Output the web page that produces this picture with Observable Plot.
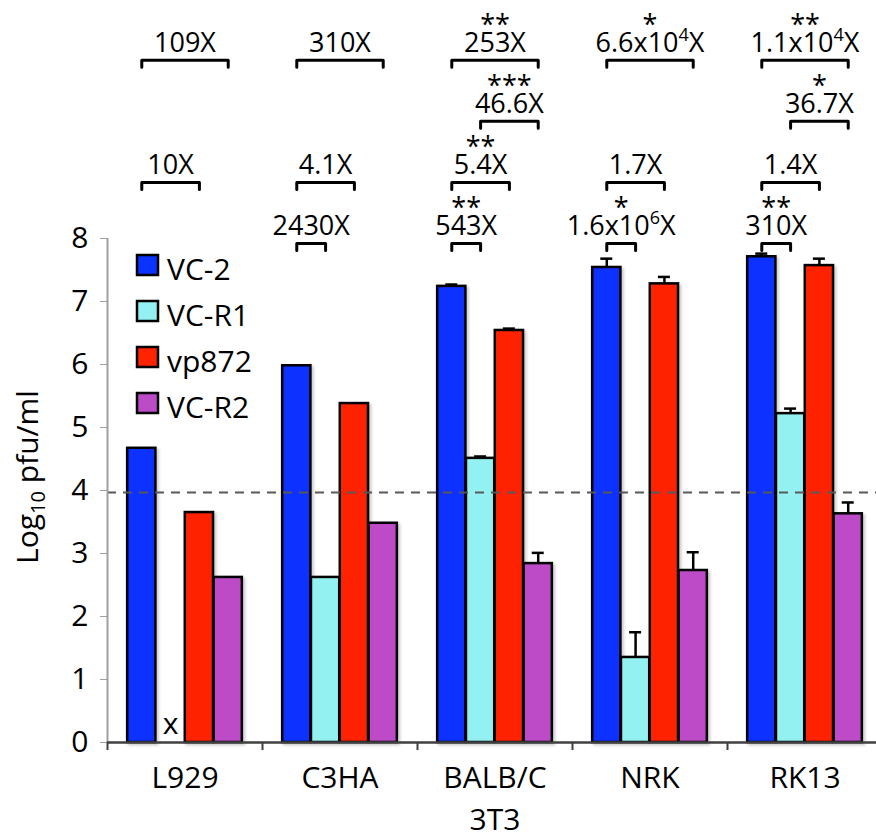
<!DOCTYPE html>
<html><head><meta charset="utf-8">
<script src="https://cdn.jsdelivr.net/npm/d3@7"></script>
<script src="https://cdn.jsdelivr.net/npm/@observablehq/plot@0.6"></script>
<style>
html,body{margin:0;padding:0;background:#fff;}
#chart{position:relative;width:876px;height:838px;}
svg{font-family:"Open Sans",sans-serif;}
</style></head><body><div id="chart"></div>
<script>
// ---- data ----
const categories = ["L929", "C3HA", "BALB/C\n3T3", "NRK", "RK13"];
const series = ["VC-2", "VC-R1", "vp872", "VC-R2"];
const colors = ["#0a33ff", "#93f2f1", "#ff2300", "#bd4bc8"];
const vc2   = [4.67, 5.98, 7.24, 7.54, 7.71];
const vcR1  = [null, 2.62, 4.51, 1.35, 5.22];
const vp872 = [3.65, 5.38, 6.54, 7.28, 7.57];
const vcR2  = [2.62, 3.48, 2.84, 2.73, 3.63];
const vc2Err   = [0, 0, 0.03, 0.14, 0.05];
const vcR1Err  = [0, 0, 0.03, 0.40, 0.08];
const vp872Err = [0, 0, 0.03, 0.11, 0.11];
const vcR2Err  = [0, 0, 0.17, 0.29, 0.18];
const yTicks = [0, 1, 2, 3, 4, 5, 6, 7, 8];
const detectionLimit = 3.97;
// pairwise comparisons (fold difference + significance)
const cmpCategory = [0, 1, 2, 3, 4, 2, 4, 0, 1, 2, 3, 4, 1, 2, 3, 4];
const cmpFrom = ["VC-2","VC-2","VC-2","VC-2","VC-2","VC-R1","VC-R1","VC-2","VC-2","VC-2","VC-2","VC-2","VC-2","VC-2","VC-2","VC-2"];
const cmpTo   = ["VC-R2","VC-R2","VC-R2","VC-R2","VC-R2","VC-R2","VC-R2","vp872","vp872","vp872","vp872","vp872","VC-R1","VC-R1","VC-R1","VC-R1"];
const cmpTier = [0, 0, 0, 0, 0, 1, 1, 2, 2, 2, 2, 2, 3, 3, 3, 3];
const cmpFold = ["109X","310X","253X","6.6x10^4X","1.1x10^4X","46.6X","36.7X","10X","4.1X","5.4X","1.7X","1.4X","2430X","543X","1.6x10^6X","310X"];
const cmpStars = ["","","**","*","**","***","*","","","**","","","","**","*","**"];

// ---- layout ----
const W = 876, H = 838, mTop = 238, mBottom = 96, xLeft = 107, xRight = 882;
const pxPerUnit = (H - mTop - mBottom) / 8;
const values = [vc2, vcR1, vp872, vcR2];
const errs = [vc2Err, vcR1Err, vp872Err, vcR2Err];
const inner = d3.scaleBand().domain(series).range([-0.5, 0.5]).paddingInner(0.02).paddingOuter(0.7);
const bw = inner.bandwidth();
const center = (i, s) => i + inner(s) + bw / 2;

const bars = [];
categories.forEach((c, i) => series.forEach((s, j) => {
  const x1 = i + inner(s);
  bars.push({cat: c, series: s, x1, x2: x1 + bw, xc: x1 + bw / 2, v: values[j][i], e: errs[j][i]});
}));
const present = bars.filter(d => d.v != null);
const missing = bars.filter(d => d.v == null);
const withErr = present.filter(d => d.e > 0);
const capHalf = 6 / ((xRight - xLeft) / 5);

const tierLevel = t => 7.92 + (3 - t) * 0.97;
const tickLen = 7 / pxPerUnit;
const cmps = cmpCategory.map((c, k) => {
  const xa = center(c, cmpFrom[k]), xb = center(c, cmpTo[k]);
  return {id: k, xa, xb, xm: (xa + xb) / 2, level: tierLevel(cmpTier[k]), fold: cmpFold[k], stars: cmpStars[k]};
});
const bracketPts = cmps.flatMap(d => [
  {id: d.id, x: d.xa, y: d.level - tickLen},
  {id: d.id, x: d.xa, y: d.level},
  {id: d.id, x: d.xb, y: d.level},
  {id: d.id, x: d.xb, y: d.level - tickLen}
]);
const boundaries = [-0.5, 0.5, 1.5, 2.5, 3.5];

const plot = Plot.plot({
  width: W, height: H,
  marginTop: mTop, marginBottom: mBottom, marginLeft: xLeft, marginRight: 0,
  style: {fontFamily: "'Open Sans', sans-serif", background: "#fff"},
  x: {domain: [-0.5, 4.5], range: [xLeft, xRight], axis: null},
  y: {domain: [0, 8]},
  color: {domain: series, range: colors},
  marks: [
    Plot.rect(present, {x1: "x1", x2: "x2", y1: 0, y2: "v", fill: "series", stroke: "black", strokeWidth: 2.5}),
    Plot.ruleX(withErr, {x: "xc", y1: "v", y2: d => d.v + d.e, stroke: "black", strokeWidth: 2.5}),
    Plot.ruleY(withErr, {y: d => d.v + d.e, x1: d => d.xc - capHalf, x2: d => d.xc + capHalf, stroke: "black", strokeWidth: 2.5}),
    Plot.ruleY([detectionLimit], {x1: -0.5, x2: 4.5, stroke: "#595959", strokeWidth: 2, strokeDasharray: "9,7"}),
    Plot.ruleX([-0.5], {y1: 0, y2: 8, stroke: "#a0a0a0", strokeWidth: 2}),
    Plot.axisY({ticks: yTicks, tickSize: 7, tickPadding: 12, fontSize: 30, label: null, stroke: "#a0a0a0", fill: "#000"}),
    Plot.ruleX(boundaries, {x: d => d, y1: 0, y2: -8 / pxPerUnit, stroke: "#404040", strokeWidth: 2}),
    Plot.ruleY([0], {x1: -0.5, x2: 4.5, stroke: "#404040", strokeWidth: 2.5}),
    Plot.text(categories, {x: (d, i) => i, frameAnchor: "bottom", text: d => d, dy: 16, lineAnchor: "top", lineHeight: 1.4, fontSize: 30, fill: "#000"}),
    Plot.text(missing, {x: "xc", y: 0, text: () => "x", dy: -18, fontSize: 30, fill: "#000"}),
    Plot.line(bracketPts, {x: "x", y: "y", z: "id", stroke: "black", strokeWidth: 3}),
    Plot.text(cmps, {x: "xm", y: "level", text: "fold", dy: -17, fontSize: 27, fill: "#000"}),
    Plot.text(cmps.filter(d => d.stars), {x: "xm", y: "level", text: "stars", dy: -35, fontSize: 27, fill: "#000"})
  ]
});
document.getElementById("chart").appendChild(plot);

const svg = d3.select(plot);
// superscripts in fold labels
svg.selectAll("text").each(function () {
  const t = this.textContent;
  if (!t.includes("^")) return;
  const m = t.match(/^(.*)\^(\d)(.*)$/);
  if (!m) return;
  const el = d3.select(this);
  el.text(null);
  el.append("tspan").text(m[1]);
  el.append("tspan").attr("dy", -11).attr("font-size", 18).text(m[2]);
  el.append("tspan").attr("dy", 11).text(m[3]);
});
// bar drop shadow
const defs = svg.append("defs");
const f = defs.append("filter").attr("id", "shadow").attr("x", "-20%").attr("y", "-5%").attr("width", "150%").attr("height", "115%");
f.append("feDropShadow").attr("dx", 2).attr("dy", 2).attr("stdDeviation", 1.5).attr("flood-color", "#000").attr("flood-opacity", 0.22);
svg.select('g[aria-label="rect"]').attr("filter", "url(#shadow)");

// y-axis label
const yl = svg.append("text").attr("transform", "translate(38,477) rotate(-90)")
  .attr("text-anchor", "middle").attr("font-size", 30).attr("fill", "#000");
yl.append("tspan").text("Log");
yl.append("tspan").attr("font-size", 20).attr("dy", 7).text("10");
yl.append("tspan").attr("dy", -7).text(" pfu/ml");

// legend
const lg = svg.append("g");
series.forEach((s, i) => {
  const y0 = 255 + i * 46;
  lg.append("rect").attr("x", 137).attr("y", y0).attr("width", 21).attr("height", 20)
    .attr("fill", colors[i]).attr("stroke", "#000").attr("stroke-width", 2.5);
  lg.append("text").attr("x", 167).attr("y", y0 + 25).attr("text-anchor", "start")
    .attr("font-size", 30).attr("fill", "#000").text(s);
});
</script></body></html>
